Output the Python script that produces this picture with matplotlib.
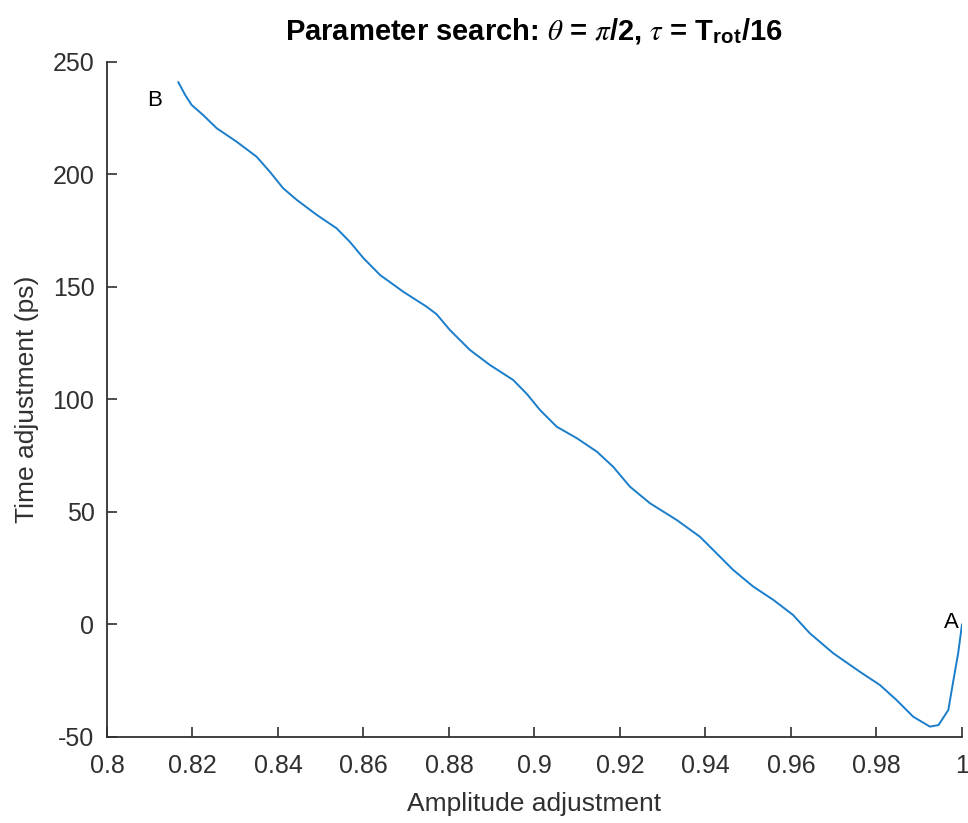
import matplotlib
matplotlib.use("Agg")
import matplotlib.pyplot as plt

# amplitude / time adjustment pairs along the search path (B -> A)
amplitude = [0.8167, 0.8183, 0.8198, 0.8225, 0.8257, 0.8303, 0.8350, 0.8381,
             0.8412, 0.8444, 0.8491, 0.8537, 0.8568, 0.8600, 0.8639, 0.8693,
             0.8748, 0.8771, 0.8802, 0.8849, 0.8896, 0.8950, 0.8982, 0.9013,
             0.9052, 0.9099, 0.9146, 0.9184, 0.9223, 0.9270, 0.9333, 0.9387,
             0.9434, 0.9465, 0.9512, 0.9559, 0.9605, 0.9644, 0.9699, 0.9761,
             0.9808, 0.9847, 0.9886, 0.9925, 0.9945, 0.9968, 0.9980, 0.9991,
             1.0000]
time_ps = [241.0, 235.3, 230.9, 226.4, 220.5, 214.6, 207.9, 201.2,
           193.9, 188.7, 182.0, 176.1, 170.1, 162.8, 155.3, 147.9,
           141.2, 137.9, 130.9, 122.0, 115.3, 108.7, 102.5, 95.3,
           87.9, 82.8, 76.8, 70.1, 61.3, 53.9, 46.4, 39.0,
           30.1, 24.2, 16.8, 10.9, 4.2, -3.9, -12.8, -21.0,
           -26.9, -33.6, -41.0, -45.4, -44.7, -38.0, -24.7, -12.8,
           0.0]

x_ticks = [0.8, 0.82, 0.84, 0.86, 0.88, 0.9, 0.92, 0.94, 0.96, 0.98, 1.0]
x_labels = ['0.8', '0.82', '0.84', '0.86', '0.88', '0.9', '0.92', '0.94', '0.96', '0.98', '1']
y_ticks = [-50, 0, 50, 100, 150, 200, 250]

plt.rcParams['font.family'] = ['Liberation Sans', 'DejaVu Sans']
# greek letters in serif italic, subscript in bold sans like the title
plt.rcParams['mathtext.fontset'] = 'custom'
plt.rcParams['mathtext.rm'] = 'Liberation Sans'
plt.rcParams['mathtext.it'] = 'STIXGeneral:italic'
plt.rcParams['mathtext.bf'] = 'Liberation Sans:bold'
plt.rcParams['axes.unicode_minus'] = False

axcol = '#303030'
fig = plt.figure(figsize=(9.68, 8.23), dpi=100)
ax = fig.add_axes([0.1105, 0.1045, 0.8833, 0.8202])

ax.plot(amplitude, time_ps, color='#1a7dca', lw=1.4)

ax.set_xlim(0.8, 1.0)
ax.set_ylim(-50, 250)
ax.set_xticks(x_ticks)
ax.set_xticklabels(x_labels)
ax.set_yticks(y_ticks)
ax.tick_params(direction='in', length=7, width=1.2, colors=axcol, labelsize=18)
ax.tick_params(axis='x', pad=12)
ax.tick_params(axis='y', pad=9)
for s in ['top', 'right']:
    ax.spines[s].set_visible(False)
for s in ['left', 'bottom']:
    ax.spines[s].set_color(axcol)
    ax.spines[s].set_linewidth(1.3)

ax.set_xlabel('Amplitude adjustment', fontsize=19, color=axcol, labelpad=10)
ax.set_ylabel('Time adjustment (ps)', fontsize=19, color=axcol, labelpad=10)
ax.set_title(r'Parameter search: $\theta$ = $\pi$/2, $\tau$ = T$_{\mathbf{rot}}$/16',
             fontsize=21, fontweight='bold', color='black', pad=16)

# end-point markers
ax.text(0.8095, 233, 'B', fontsize=16, va='center', ha='left', color='black')
ax.text(0.9958, 1, 'A', fontsize=16, va='center', ha='left', color='black')

fig.savefig('out.png', dpi=100)
